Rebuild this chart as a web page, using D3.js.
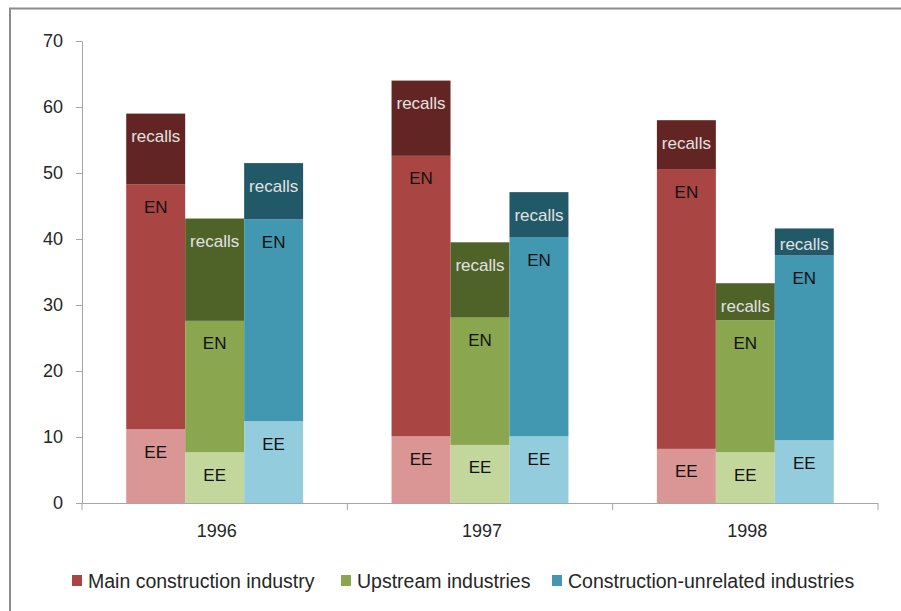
<!DOCTYPE html>
<html>
<head>
<meta charset="utf-8">
<script src="https://cdn.jsdelivr.net/npm/d3@7/dist/d3.min.js"></script>
<style>
  body { margin: 0; background: #fff; }
  svg text { font-family: "Liberation Sans", Arial, sans-serif; }
</style>
</head>
<body>
<svg width="901" height="611"></svg>
<script>
// years on the x axis
var years = ["1996", "1997", "1998"];
// stacked segments, bottom to top
var segments = ["EE", "EN", "recalls"];
var seriesNames = ["Main construction industry", "Upstream industries", "Construction-unrelated industries"];

// segment values per year: [EE, EN, recalls]
var mainValues = [[11.2, 37.1, 10.7], [10.1, 42.5, 11.4], [8.2, 42.4, 7.4]];
var upstreamValues = [[7.7, 19.9, 15.5], [8.8, 19.3, 11.4], [7.7, 20.0, 5.6]];
var unrelatedValues = [[12.4, 30.6, 8.5], [10.1, 30.2, 6.8], [9.5, 28.0, 4.1]];

var yTicks = [0, 10, 20, 30, 40, 50, 60, 70];

var colors = [
    ["#d99694", "#a94644", "#632523"],
    ["#c3d69b", "#8aa64f", "#4f6228"],
    ["#93cddd", "#4298b1", "#215968"]
];
var legendColors = ["#a94644", "#8aa64f", "#4298b1"];

var svg = d3.select("svg");

// chart frame
svg.append("path")
    .attr("d", "M10,612 L10,8.5 L902,8.5")
    .attr("fill", "none")
    .attr("stroke", "#8c8c8c")
    .attr("stroke-width", 2);

var x0 = d3.scaleBand().domain(years).range([82, 878]);
var x1 = d3.scaleBand().domain(d3.range(3)).range([0, x0.bandwidth()]).paddingOuter(0.75);
var y = d3.scaleLinear().domain([0, 70]).range([503, 41]);

// y axis
var yAxis = svg.append("g")
    .attr("transform", "translate(82,0)")
    .call(d3.axisLeft(y).tickValues(yTicks).tickSize(6).tickPadding(13).tickSizeOuter(0));
yAxis.select(".domain").attr("stroke", "#a6a6a6");
yAxis.selectAll(".tick line").attr("stroke", "#a6a6a6");
yAxis.selectAll("text").attr("font-size", 18).attr("fill", "#262626")
    .attr("font-family", "Liberation Sans, Arial, sans-serif");

var allValues = [mainValues, upstreamValues, unrelatedValues];

years.forEach(function(yr, yi) {
    allValues.forEach(function(vals, si) {
        var base = 0;
        vals[yi].forEach(function(v, k) {
            var top = base + v;
            var bx = x0(yr) + x1(si);
            svg.append("rect")
                .attr("x", bx)
                .attr("width", x1.bandwidth())
                .attr("y", y(top))
                .attr("height", y(base) - y(top))
                .attr("fill", colors[si][k]);
            var ly = Math.min(y(top) + 23, y(base) - 11);
            svg.append("text")
                .attr("x", bx + x1.bandwidth() / 2)
                .attr("y", ly)
                .attr("text-anchor", "middle")
                .attr("dominant-baseline", "central")
                .attr("font-size", 17)
                .attr("fill", k == 2 ? "#e2e2e2" : "#111")
                .text(segments[k]);
            base = top;
        });
    });
});

// x axis
svg.append("line")
    .attr("x1", 76).attr("x2", 878)
    .attr("y1", 503.5).attr("y2", 503.5)
    .attr("stroke", "#a6a6a6");
var bounds = years.map(function(d) { return x0(d); }).concat([878]);
svg.selectAll(".xtick").data(bounds).enter().append("line")
    .attr("class", "xtick")
    .attr("x1", function(d) { return d; }).attr("x2", function(d) { return d; })
    .attr("y1", 503).attr("y2", 510)
    .attr("stroke", "#a6a6a6");
svg.selectAll(".xlabel").data(years).enter().append("text")
    .attr("class", "xlabel")
    .attr("x", function(d) { return x0(d) + x0.bandwidth() / 2 + 2; })
    .attr("y", 531)
    .attr("text-anchor", "middle")
    .attr("dominant-baseline", "central")
    .attr("font-size", 18)
    .attr("fill", "#262626")
    .text(function(d) { return d; });

// legend
var legendX = [72, 341, 552];
var legend = svg.selectAll(".legend").data(seriesNames).enter().append("g")
    .attr("class", "legend")
    .attr("transform", function(d, i) { return "translate(" + legendX[i] + ",575)"; });
legend.append("rect")
    .attr("width", 10).attr("height", 11)
    .attr("fill", function(d, i) { return legendColors[i]; });
legend.append("text")
    .attr("x", 16).attr("y", 6)
    .attr("dominant-baseline", "central")
    .attr("font-size", 19.5)
    .attr("fill", "#262626")
    .text(function(d) { return d; });
</script>
</body>
</html>
